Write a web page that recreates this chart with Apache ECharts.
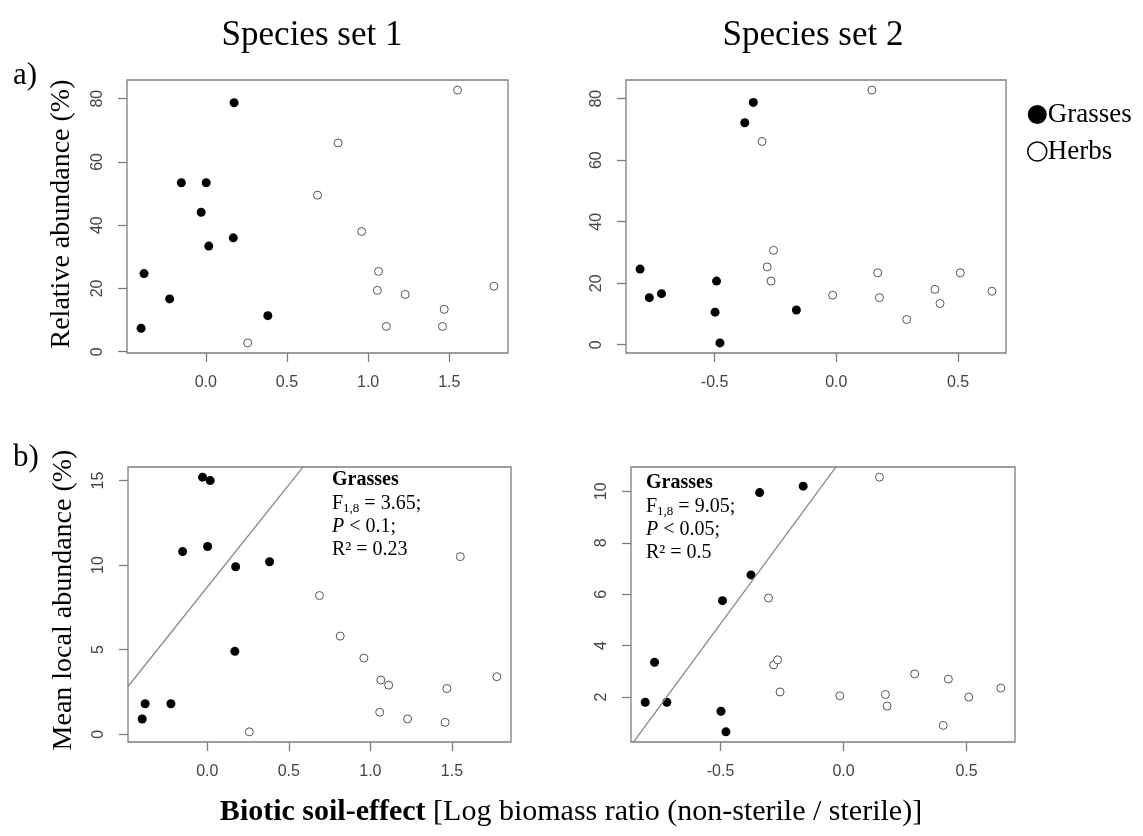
<!DOCTYPE html>
<html>
<head>
<meta charset="utf-8">
<script src="https://cdn.jsdelivr.net/npm/echarts@6/dist/echarts.min.js"></script>
<style>
  html, body {margin: 0; padding: 0; background: #fff;}
  #main {width: 1143px; height: 836px;}
</style>
</head>
<body>
<div id="main"></div>
<script>
// Species set 1 (panels a and b, left column)
const set1GrassX = [-0.399, -0.381, -0.223, -0.151, -0.029, 0.002, 0.018, 0.169, 0.174, 0.382];
const set1GrassRel = [7.4, 24.7, 16.7, 53.4, 44.1, 53.4, 33.4, 36.0, 78.7, 11.4];
const set1GrassLocal = [0.9, 1.8, 1.8, 10.8, 15.2, 11.1, 15.0, 4.9, 9.9, 10.2];
const set1HerbX = [0.258, 0.688, 0.815, 0.960, 1.057, 1.064, 1.112, 1.228, 1.458, 1.469, 1.551, 1.775];
const set1HerbRel = [2.8, 49.5, 66.0, 38.0, 19.4, 25.4, 8.0, 18.1, 8.0, 13.4, 82.7, 20.7];
const set1HerbLocal = [0.14, 8.2, 5.8, 4.5, 1.3, 3.2, 2.9, 0.9, 0.7, 2.7, 10.5, 3.4];

// Species set 2 (right column)
const set2GrassX = [-0.806, -0.768, -0.718, -0.498, -0.492, -0.478, -0.376, -0.341, -0.164];
const set2GrassRel = [24.6, 15.3, 16.6, 10.6, 20.7, 0.6, 72.2, 78.8, 11.3];
const set2GrassLocal = [1.8, 3.35, 1.8, 1.45, 5.75, 0.65, 6.75, 9.95, 10.2];
const set2HerbX = [-0.305, -0.284, -0.268, -0.258, -0.015, 0.146, 0.170, 0.177, 0.289, 0.405, 0.426, 0.509, 0.639];
const set2HerbRel = [66.1, 25.3, 20.7, 30.7, 16.1, 82.8, 23.4, 15.3, 8.2, 18.0, 13.4, 23.4, 17.4];
const set2HerbLocal = [5.85, 3.25, 3.45, 2.2, 2.05, 10.55, 2.1, 1.65, 2.9, 0.9, 2.7, 2.0, 2.35];

// grasses regression lines (intercept, slope) for panel b
const fit1 = [8.70, 12.1];
const fit2 = [11.35, 13.0];

// tick labels
const ticksX1 = [0, 0.5, 1, 1.5];
const ticksX2 = [-0.5, 0, 0.5];
const ticksRel = [0, 20, 40, 60, 80];
const ticksLocal1 = [0, 5, 10, 15];
const ticksLocal2 = [2, 4, 6, 8, 10];

const serif = '"Liberation Serif", "Times New Roman", serif';
const sans = '"Liberation Sans", Arial, sans-serif';
const boxColor = '#7d7d7d';

// R style axis range: data range widened by 4% on each side
function rRange(...arrays) {
    const all = [].concat(...arrays);
    const lo = Math.min(...all), hi = Math.max(...all);
    const pad = (hi - lo) * 0.04;
    return [lo - pad, hi + pad];
}

const pair = (xs, ys) => xs.map((x, i) => [x, ys[i]]);

const grids = [
    {left: 127, top: 80, width: 381, height: 273},
    {left: 626, top: 80, width: 380, height: 273},
    {left: 128, top: 467, width: 383, height: 275},
    {left: 631, top: 467, width: 384, height: 275}
];

function xAxisFor(i, range, ticks) {
    return {
        type: 'value', gridIndex: i, min: range[0], max: range[1],
        axisLine: {show: false, onZero: false},
        splitLine: {show: false},
        axisTick: {show: true, length: 9, lineStyle: {color: boxColor, width: 1.3}, customValues: ticks},
        axisLabel: {
            fontFamily: sans, fontSize: 16, color: '#444', margin: 22,
            customValues: ticks, formatter: v => v.toFixed(1)
        }
    };
}

function yAxisFor(i, range, ticks) {
    return {
        type: 'value', gridIndex: i, min: range[0], max: range[1],
        axisLine: {show: false, onZero: false},
        splitLine: {show: false},
        axisTick: {show: true, length: 9, lineStyle: {color: boxColor, width: 1.3}, customValues: ticks},
        axisLabel: {
            fontFamily: sans, fontSize: 16, color: '#444', margin: 21, rotate: 90,
            customValues: ticks, formatter: v => String(v)
        }
    };
}

const x1Range = rRange(set1GrassX, set1HerbX);
const x2Range = rRange(set2GrassX, set2HerbX);

function grassSeries(i, data) {
    return {
        name: 'Grasses', type: 'scatter', xAxisIndex: i, yAxisIndex: i,
        symbolSize: 9, itemStyle: {color: '#000', opacity: 1},
        data: data
    };
}

function herbSeries(i, data) {
    return {
        name: 'Herbs', type: 'scatter', xAxisIndex: i, yAxisIndex: i,
        symbolSize: 8, itemStyle: {color: '#fff', borderColor: '#555', borderWidth: 1, opacity: 1},
        data: data
    };
}

function fitSeries(i, fit, range) {
    return {
        type: 'line', xAxisIndex: i, yAxisIndex: i, clip: true,
        symbol: 'none', silent: true,
        lineStyle: {color: '#8a8a8a', width: 1.3},
        data: range.map(x => [x, fit[0] + fit[1] * x])
    };
}

function statsText(left, top, f, p) {
    const base = {fontFamily: serif, fontSize: 20, fill: '#000'};
    return [
        {type: 'text', left: left, top: top, style: Object.assign({}, base, {text: 'Grasses', fontWeight: 'bold'})},
        {type: 'text', left: left, top: top + 24, style: Object.assign({}, base, {
            text: '{n|F}{s|1,8}{n| = ' + f + ';}',
            rich: {
                n: {fontFamily: serif, fontSize: 20, lineHeight: 22},
                s: {fontFamily: serif, fontSize: 13, lineHeight: 8, verticalAlign: 'bottom'}
            }
        })},
        {type: 'text', left: left, top: top + 47, style: Object.assign({}, base, {
            text: '{i|P}{n| < ' + p + ';}',
            rich: {
                i: {fontFamily: serif, fontSize: 20, fontStyle: 'italic'},
                n: {fontFamily: serif, fontSize: 20}
            }
        })}
    ];
}

const chartDom = document.getElementById('main');
const myChart = echarts.init(chartDom, null, {renderer: 'canvas'});

const option = {
    backgroundColor: '#fff',
    animation: false,
    grid: grids.map(g => Object.assign({show: true, borderColor: boxColor, borderWidth: 1.3, backgroundColor: 'transparent'}, g)),
    xAxis: [
        xAxisFor(0, x1Range, ticksX1),
        xAxisFor(1, x2Range, ticksX2),
        xAxisFor(2, x1Range, ticksX1),
        xAxisFor(3, x2Range, ticksX2)
    ],
    yAxis: [
        yAxisFor(0, rRange(set1GrassRel, set1HerbRel), ticksRel),
        yAxisFor(1, rRange(set2GrassRel, set2HerbRel), ticksRel),
        yAxisFor(2, rRange(set1GrassLocal, set1HerbLocal), ticksLocal1),
        yAxisFor(3, rRange(set2GrassLocal, set2HerbLocal), ticksLocal2)
    ],
    legend: {
        orient: 'vertical', left: 1022, top: 96, itemGap: 10,
        itemWidth: 19, itemHeight: 19, selectedMode: false,
        textStyle: {fontFamily: serif, fontSize: 27, color: '#000', padding: [0, 0, 0, -4]},
        data: [
            {name: 'Grasses', icon: 'circle', itemStyle: {color: '#000', borderWidth: 0}},
            {name: 'Herbs', icon: 'circle', itemStyle: {color: '#fff', borderColor: '#000', borderWidth: 1.5}}
        ]
    },
    series: [
        grassSeries(0, pair(set1GrassX, set1GrassRel)),
        herbSeries(0, pair(set1HerbX, set1HerbRel)),
        grassSeries(1, pair(set2GrassX, set2GrassRel)),
        herbSeries(1, pair(set2HerbX, set2HerbRel)),
        fitSeries(2, fit1, x1Range),
        grassSeries(2, pair(set1GrassX, set1GrassLocal)),
        herbSeries(2, pair(set1HerbX, set1HerbLocal)),
        fitSeries(3, fit2, x2Range),
        grassSeries(3, pair(set2GrassX, set2GrassLocal)),
        herbSeries(3, pair(set2HerbX, set2HerbLocal))
    ],
    graphic: [
        {type: 'text', x: 312, y: 36, style: {text: 'Species set 1', fontFamily: serif, fontSize: 35, fill: '#000', textAlign: 'center', textVerticalAlign: 'middle'}},
        {type: 'text', x: 813, y: 36, style: {text: 'Species set 2', fontFamily: serif, fontSize: 35, fill: '#000', textAlign: 'center', textVerticalAlign: 'middle'}},
        {type: 'text', x: 13, y: 76, style: {text: 'a)', fontFamily: serif, fontSize: 31, fill: '#000', textVerticalAlign: 'middle'}},
        {type: 'text', x: 13, y: 458, style: {text: 'b)', fontFamily: serif, fontSize: 31, fill: '#000', textVerticalAlign: 'middle'}},
        {type: 'text', x: 62, y: 214, rotation: Math.PI / 2, style: {text: 'Relative abundance (%)', fontFamily: serif, fontSize: 28, fill: '#000', textAlign: 'center', textVerticalAlign: 'middle'}},
        {type: 'text', x: 64, y: 600, rotation: Math.PI / 2, style: {text: 'Mean local abundance (%)', fontFamily: serif, fontSize: 28, fill: '#000', textAlign: 'center', textVerticalAlign: 'middle'}},
        {type: 'text', x: 571, y: 812, style: {
            text: '{b|Biotic soil-effect}{n| [Log biomass ratio (non-sterile / sterile)]}',
            textAlign: 'center', textVerticalAlign: 'middle',
            rich: {
                b: {fontFamily: serif, fontSize: 30, fontWeight: 'bold', fill: '#000'},
                n: {fontFamily: serif, fontSize: 30, fill: '#000'}
            }
        }},
        ...statsText(332, 470, '3.65', '0.1'),
        {type: 'text', left: 332, top: 540, style: {text: 'R² = 0.23', fontFamily: serif, fontSize: 20, fill: '#000'}},
        ...statsText(646, 473, '9.05', '0.05'),
        {type: 'text', left: 646, top: 543, style: {text: 'R² = 0.5', fontFamily: serif, fontSize: 20, fill: '#000'}}
    ]
};

option && myChart.setOption(option);
</script>
</body>
</html>
